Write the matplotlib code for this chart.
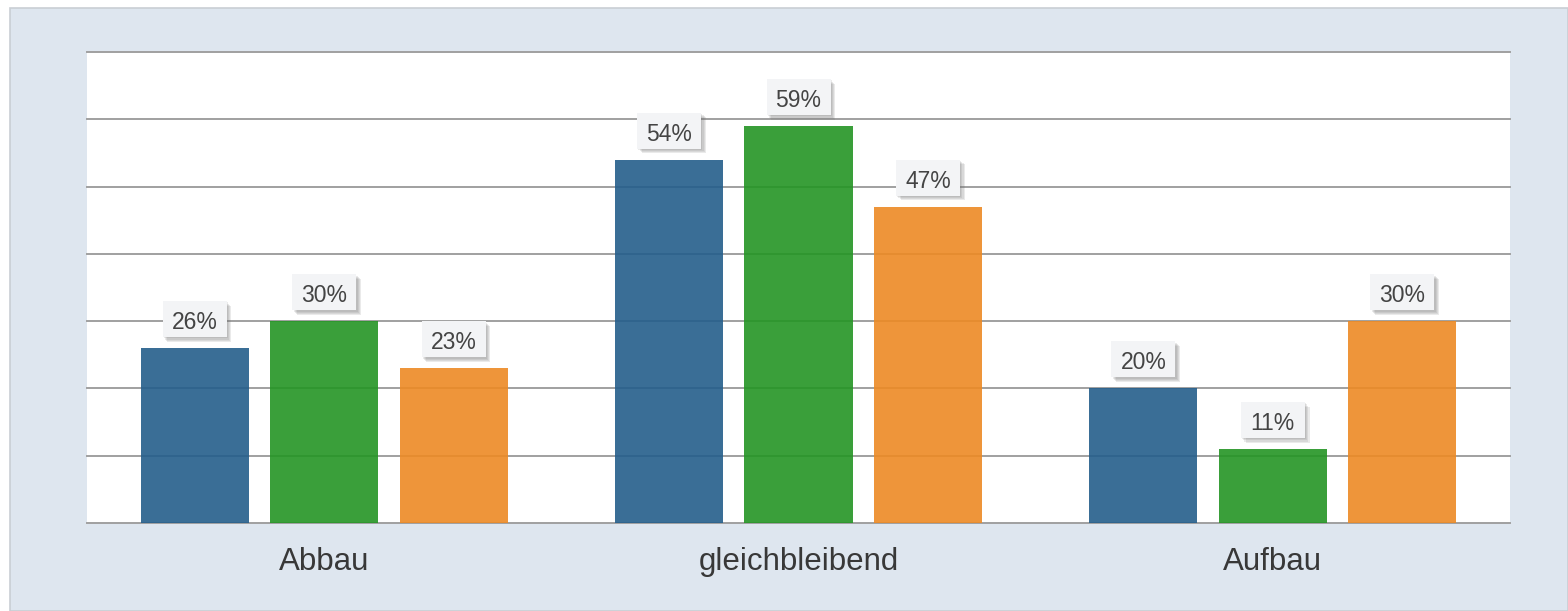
import matplotlib.pyplot as plt
import matplotlib.patheffects as pe
import matplotlib.transforms as mtransforms
from matplotlib.patches import Rectangle
import numpy as np

plt.rcParams["font.family"] = ["Liberation Sans", "DejaVu Sans"]

categories = ["Abbau", "gleichbleibend", "Aufbau"]
series_a = [26, 54, 20]
series_b = [30, 59, 11]
series_c = [23, 47, 30]
colors = ["#245e8b", "#249524", "#ed8a24"]

W, H = 1568, 611
fig = plt.figure(figsize=(W / 100, H / 100), dpi=100)
fig.patch.set_facecolor("white")
fig.patches.append(Rectangle((10 / W, 0), 1 - 10 / W, 1 - 8 / H, transform=fig.transFigure,
                             facecolor="#dee6ef", edgecolor="#c9ced4", linewidth=1.2, zorder=-5))

ax = fig.add_axes([87 / W, (H - 523) / H, (1510 - 87) / W, (523 - 52) / H])
ax.set_zorder(1)
ax.set_facecolor("white")
ax.set_xlim(-0.5, 2.5)
ax.set_ylim(0, 70)
for y in range(0, 71, 10):
    ax.axhline(y, color="#a0a0a0", linewidth=1.4, zorder=1, clip_on=False)

# soft-ish shadow for the value boxes
shadow = [pe.SimplePatchShadow(offset=(d, -d), shadow_rgbFace="#707070", alpha=0.14)
          for d in (1.0, 1.8, 2.6, 3.4)]

x = np.arange(len(categories))
width = 0.228
offset = 0.273
for i, (vals, c) in enumerate(zip([series_a, series_b, series_c], colors)):
    pos = x + (i - 1) * offset
    ax.bar(pos, vals, width=width, color=c, alpha=0.9, zorder=2, linewidth=0)
    for px, v in zip(pos, vals):
        # anchor: top centre of the bar; offsets below are in inches (1 in = 100 px)
        trans = fig.dpi_scale_trans + mtransforms.ScaledTranslation(px, v, ax.transData)
        box = Rectangle((-0.32, 0.11), 0.64, 0.36, transform=trans, facecolor="#f3f4f6",
                        edgecolor="none", zorder=4, clip_on=False)
        box.set_path_effects(shadow + [pe.Normal()])
        ax.add_patch(box)
        ax.text(0, 0.19, f"{v}%", transform=trans, ha="center", va="baseline",
                fontsize=16.5, color="#444444", zorder=5)

for s in ax.spines.values():
    s.set_visible(False)
ax.set_yticks([])
ax.set_xticks(x)
ax.set_xticklabels(categories, fontsize=22.5, color="#383838")
ax.tick_params(axis="x", length=0, pad=17)

fig.savefig("out.png", dpi=100)
